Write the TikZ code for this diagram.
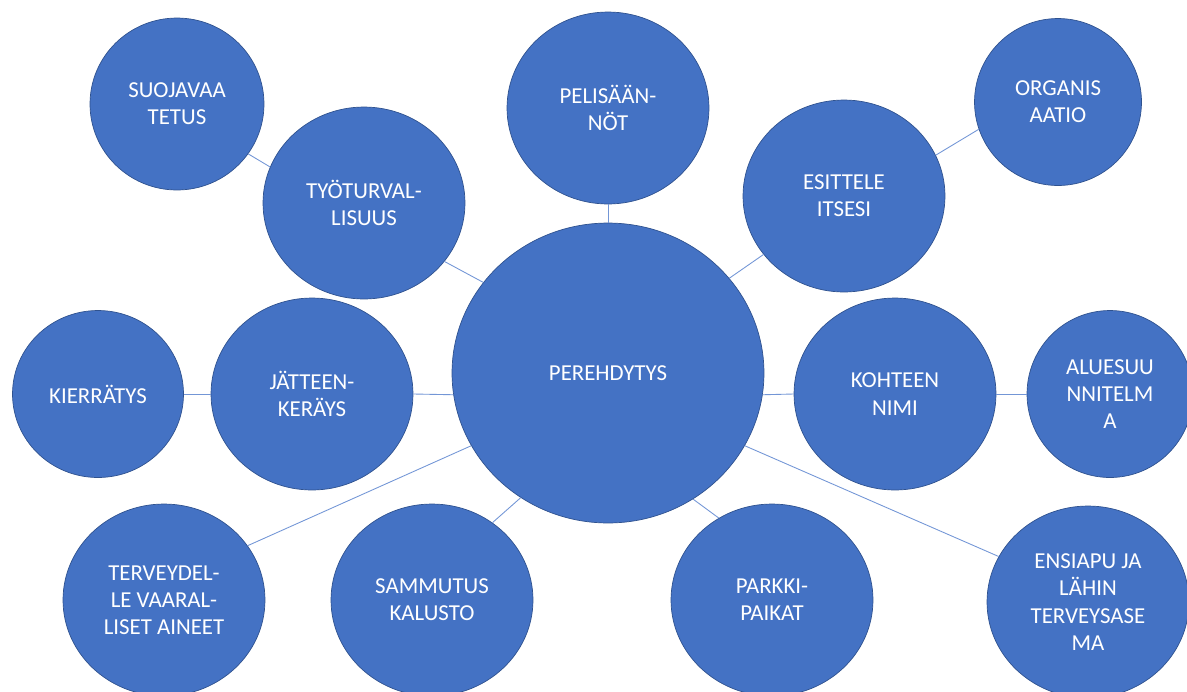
\documentclass[tikz,border=0pt]{standalone}
\usepackage{fontspec}
\setmainfont{Carlito}
\usetikzlibrary{shapes.geometric}
\definecolor{bubble}{HTML}{4472C4}
\definecolor{rim}{HTML}{2F528F}
\definecolor{wire}{HTML}{7396D6}

\begin{document}
\begin{tikzpicture}[x=0.02cm, y=-0.02cm,
    bub/.style={ellipse, draw=rim, line width=0.4pt, fill=bubble, inner sep=0pt,
        text=white, align=center, font=\fontsize{13}{15.5}\selectfont,
        minimum width=4.04cm, minimum height=3.84cm},
    small/.style={bub, minimum width=3.42cm, minimum height=3.34cm},
    wire/.style={draw=wire, line width=0.5pt}]
    \clip (0,0) rectangle (1187,691);

    % Center node
    \node[bub, minimum width=6.24cm, minimum height=6cm] (C) at (608,373) {PEREHDYTYS};

    % Outer nodes
    \node[small, minimum width=3.48cm, minimum height=3.44cm] (suoja) at (177,104) {SUOJAVAA\\TETUS};
    \node[bub] (tyo) at (364,203) {TYÖTURVAL-\\LISUUS};
    \node[bub] (peli) at (608,108) {PELISÄÄN-\\NÖT};
    \node[bub] (esit) at (844,196) {ESITTELE\\ITSESI};
    \node[small, minimum width=3.34cm] (org) at (1058,102) {ORGANIS\\AATIO};
    \node[small] (kierr) at (98,394) {KIERRÄTYS};
    \node[bub] (jate) at (312,394) {JÄTTEEN-\\KERÄYS};
    \node[bub] (koht) at (895,394) {KOHTEEN\\NIMI};
    \node[small, minimum width=3.32cm] (alue) at (1110,394) {ALUESUU\\NNITELM\\A};
    \node[bub] (terv) at (164,600) {TERVEYDEL-\\LE VAARAL-\\LISET AINEET};
    \node[bub] (samm) at (432,600) {SAMMUTUS\\KALUSTO};
    \node[bub] (park) at (772,600) {PARKKI-\\PAIKAT};
    \node[bub] (ensi) at (1088,602) {ENSIAPU JA\\LÄHIN\\TERVEYSASE\\MA};

    % Links
    \draw[wire] (peli) -- (C);
    \draw[wire] (jate.east) -- (C.188);
    \draw[wire] (koht.west) -- (C.-8);
    \draw[wire] (kierr) -- (jate);
    \draw[wire] (koht) -- (alue);
    \draw[wire] (suoja.-35) -- (tyo.159);
    \draw[wire] (esit.24) -- (org.199);
    \foreach \n/\a/\b in {tyo/-36/144, esit/216/38, terv/33/208, samm/52/235,
                          park/123/-56, ensi/153/-28} {
        \draw[wire] (\n.\a) -- (C.\b);
    }
\end{tikzpicture}
\end{document}
